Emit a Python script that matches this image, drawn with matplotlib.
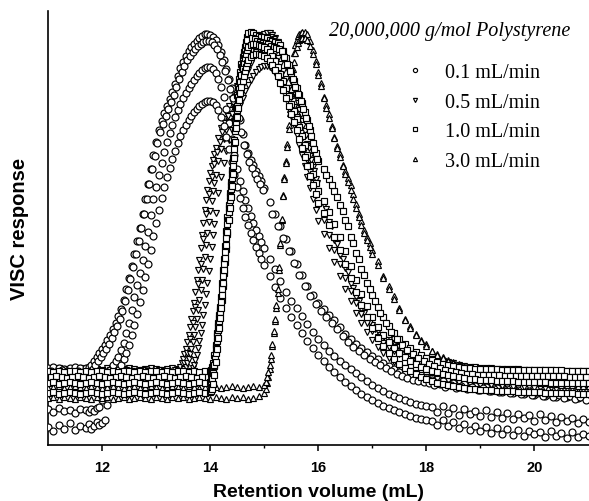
import numpy as np
import matplotlib
matplotlib.use("Agg")
import matplotlib.pyplot as plt

# retention volume at which each run was sampled (mL)
vol_01 = np.round(np.concatenate([np.arange(11.0, 11.65, 0.1),
                                  np.arange(11.70, 15.025, 0.05),
                                  np.arange(15.1, 21.05, 0.1)]), 3)
vol_01s = np.round(np.concatenate([np.arange(11.05, 11.6, 0.1),
                                   np.arange(11.725, 15.0, 0.05),
                                   np.arange(15.15, 21.0, 0.1)]), 3)
vol_05 = np.round(np.concatenate([np.arange(11.0, 13.45, 0.1),
                                  np.arange(13.45, 14.11, 0.025),
                                  np.arange(14.15, 16.025, 0.05),
                                  np.arange(16.1, 21.05, 0.1)]), 3)
vol_05s = np.round(np.concatenate([np.arange(11.05, 13.4, 0.1),
                                   np.arange(13.475, 16.0, 0.05),
                                   np.arange(16.15, 21.0, 0.1)]), 3)
vol_10 = np.round(np.concatenate([np.arange(11.0, 13.95, 0.1),
                                  np.arange(14.0, 14.71, 0.02),
                                  np.arange(14.75, 16.025, 0.05),
                                  np.arange(16.1, 21.05, 0.1)]), 3)
vol_10s = np.round(np.concatenate([np.arange(11.05, 13.9, 0.1),
                                   np.arange(14.01, 14.7, 0.02),
                                   np.arange(14.775, 16.0, 0.05),
                                   np.arange(16.15, 21.0, 0.1)]), 3)
vol_30 = np.round(np.concatenate([np.arange(11.0, 14.95, 0.1),
                                  np.arange(15.0, 15.71, 0.025),
                                  np.arange(15.75, 17.025, 0.05),
                                  np.arange(17.1, 21.05, 0.1)]), 3)

# viscometer response (arb. units), injections at 0.1 mL/min
visc_01_a = [77, 78, 77, 76, 77, 78, 77,
             77, 78, 80, 84, 88, 92, 96, 100, 105, 110, 116, 122, 129, 136, 145, 156, 167, 179, 191, 204,
             217, 231, 246, 261, 276, 290, 303, 315, 324, 332, 339, 346, 353, 361, 369, 377, 383, 389, 394, 398,
             401, 404, 407, 409, 411, 411, 410, 408, 405, 400, 393, 385, 376, 366, 357, 348, 339, 325, 311, 300,
             292, 285, 280, 274, 269, 264, 257,
             243, 231, 219, 206, 194, 181, 170, 159, 150, 142, 136, 130, 125, 118, 111, 106, 101, 97, 93, 89,
             86, 82, 79, 76, 73, 71, 69, 68, 67, 66,
             65, 62, 64, 60, 62, 58, 61, 57, 59, 55, 58, 54, 57, 53, 56, 52, 55, 51, 54, 50,
             53, 49, 52, 48, 51, 48, 50, 47, 49, 46]
visc_01_d = [74, 73, 75, 74, 73, 74,
             72, 73, 76, 80, 84, 88, 92, 96, 101, 107, 113, 119, 126, 134, 144, 155, 166, 178, 191, 204,
             217, 231, 246, 261, 276, 289, 302, 313, 321, 329, 336, 343, 350, 358, 366, 373, 379, 385, 389, 393,
             396, 399, 401, 403, 404, 404, 403, 400, 396, 390, 383, 374, 365, 356, 347, 338, 327, 313, 300, 291,
             283, 277, 271, 266, 261, 255,
             231, 219, 207, 194, 182, 170, 159, 149, 141, 134, 128, 122, 116, 109, 103, 98, 94, 90, 86, 83,
             80, 77, 74, 71, 69, 67, 65, 64, 63, 62,
             60, 61, 58, 60, 57, 59, 56, 58, 55, 57, 54, 56, 53, 55, 52, 54, 51, 53, 50, 52,
             49, 51, 48, 50, 47, 49, 46, 48, 45]
visc_01_b = [36, 33, 37, 34, 35, 32, 36,
             35, 33, 36, 34, 37, 38, 45, 58, 68, 75, 80, 84, 88, 95, 102, 112, 122, 135, 148, 160,
             172, 185, 199, 213, 230, 246, 258, 270, 282, 293, 303, 312, 320, 328, 335, 341, 347, 352, 357, 361,
             365, 369, 372, 375, 377, 378, 378, 376, 372, 366, 358, 348, 336, 322, 306, 290, 276, 264, 254, 245,
             237, 229, 222, 215, 209, 203, 197,
             186, 176, 164, 153, 144, 137, 129, 121, 113, 106, 100, 94, 89, 84, 80, 76, 72, 68, 64, 60,
             57, 54, 51, 49, 47, 45, 43, 41, 40, 39,
             38, 33, 39, 32, 37, 30, 36, 31, 34, 29, 35, 28, 33, 27, 32, 26, 31, 27, 30, 24,
             31, 25, 29, 23, 28, 24, 27, 22, 26, 23]
visc_01_c = [18, 14, 20, 16, 22, 15, 19,
             17, 21, 16, 19, 23, 20, 22, 25, 40, 55, 64, 70, 75, 80, 86, 92, 100, 110, 120, 131,
             143, 155, 168, 181, 195, 209, 222, 235, 247, 258, 268, 277, 286, 294, 302, 309, 315, 320, 325, 329,
             333, 336, 339, 341, 343, 344, 344, 343, 340, 335, 328, 319, 308, 296, 283, 270, 258, 247, 237, 228,
             220, 212, 205, 198, 192, 186, 180,
             169, 158, 147, 137, 128, 120, 112, 104, 97, 90, 84, 78, 73, 68, 63, 59, 55, 51, 48, 45,
             42, 39, 37, 35, 33, 31, 29, 27, 26, 25,
             24, 20, 25, 19, 23, 17, 21, 15, 19, 14, 18, 12, 17, 11, 16, 10, 15, 9, 14, 11,
             13, 8, 14, 9, 12, 7, 13, 8, 11, 9]

# 0.5 mL/min
visc_05_a = [76, 75, 77, 76, 75, 76, 77, 75, 76, 76, 75, 77, 76, 75, 76, 77, 76, 75, 76, 77, 76, 75, 76, 77, 76,
             78, 82, 86, 91, 96, 103, 110, 118, 126, 134, 142, 153, 165, 175, 185, 197, 210, 222, 235, 245,
             255, 264, 272, 279, 285, 291, 297,
             307, 317, 326, 333, 339, 346, 352, 359, 367, 375, 384, 392, 399, 404, 407, 409, 410, 411, 412, 412,
             410, 407, 403, 397, 390, 382, 373, 364, 355, 346, 335, 324, 314, 301, 289, 278, 266, 254,
             240, 223, 205, 190, 177, 161, 148, 136, 127, 120, 114, 109, 105, 102, 99, 96, 93, 91, 89, 87,
             86, 85, 84, 83, 82, 80, 79, 78, 78, 77, 77, 77, 76, 76, 76, 76, 76, 75, 75, 75,
             75, 75, 75, 74, 74, 74, 74, 74, 74, 74]
visc_05_d = [74, 73, 75, 74, 73, 75, 74, 73, 75, 74, 73, 75, 74, 73, 75, 74, 73, 75, 74, 73, 75, 74, 73, 75,
             74, 82, 92, 106, 122, 138, 161, 181, 206, 231, 251, 268, 281, 293, 303, 313, 322, 329, 335, 342,
             348, 355, 363, 371, 380, 388, 395, 400, 403, 405, 406, 407, 408, 408, 406, 403, 399, 393, 386, 378,
             369, 360, 351, 342, 331, 320, 310, 297, 285, 274, 262,
             236, 219, 201, 186, 173, 157, 144, 132, 123, 116, 110, 105, 101, 98, 95, 92, 89, 87, 85, 83,
             82, 81, 80, 79, 78, 76, 75, 74, 74, 73, 73, 73, 72, 72, 72, 72, 72, 71, 71, 71,
             71, 71, 71, 70, 70, 70, 70, 70, 70]
visc_05_b = [72, 71, 72, 73, 71, 72, 72, 71, 73, 72, 71, 72, 72, 73, 71, 72, 71, 72, 73, 72, 71, 72, 72, 71, 72,
             72, 73, 74, 76, 78, 82, 86, 91, 96, 103, 110, 118, 126, 135, 145, 155, 165, 176, 188, 200,
             212, 223, 234, 244, 254, 262, 270,
             284, 296, 306, 315, 323, 331, 338, 345, 352, 360, 368, 375, 382, 388, 393, 396, 398, 399, 399, 398,
             396, 392, 387, 381, 374, 366, 357, 348, 338, 328, 318, 307, 296, 285, 273, 262, 250, 239,
             225, 210, 195, 181, 167, 154, 142, 131, 122, 114, 108, 102, 98, 94, 91, 88, 86, 84, 82, 80,
             79, 78, 77, 76, 75, 74, 73, 72, 72, 71, 71, 70, 70, 70, 69, 69, 69, 69, 68, 68,
             68, 68, 67, 67, 67, 67, 67, 66, 66, 66]
visc_05_c = [65, 66, 64, 66, 65, 64, 66, 65, 65, 64, 66, 65, 64, 65, 66, 65, 64, 66, 65, 65, 64, 66, 65, 64, 65,
             66, 66, 67, 67, 68, 69, 70, 72, 74, 77, 80, 85, 90, 97, 104, 112, 120, 130, 140, 151,
             162, 174, 186, 198, 210, 221, 232,
             252, 268, 282, 294, 305, 315, 324, 332, 340, 347, 354, 360, 365, 369, 373, 376, 378, 379, 379, 378,
             376, 372, 367, 361, 354, 346, 338, 329, 320, 310, 300, 290, 279, 268, 257, 246, 235, 224,
             211, 197, 183, 169, 156, 144, 132, 122, 113, 105, 98, 92, 87, 83, 80, 77, 74, 72, 70, 68,
             67, 66, 65, 64, 63, 62, 62, 61, 61, 60, 60, 60, 59, 59, 59, 58, 58, 58, 58, 57,
             57, 57, 57, 56, 56, 56, 56, 56, 55, 55]

# 1.0 mL/min
visc_10_a = [74, 73, 74, 73, 74, 74, 73, 74, 73, 74, 74, 73, 74, 73, 74, 74, 73, 74, 73, 74,
             74, 73, 74, 73, 74, 74, 73, 74, 73, 74,
             74, 75, 78, 82, 90, 100, 112, 122, 130, 138, 148, 162, 175, 186, 199, 214, 228, 240, 252, 263,
             275, 287, 305, 324, 338, 350, 358, 366, 373, 381, 388, 393, 398, 403, 408, 412,
             413, 412, 410, 409, 408, 408, 407, 405, 404, 403, 402, 400, 394, 387, 380, 372, 364, 357, 350, 342,
             333, 325, 315, 302, 292, 284,
             276, 266, 254, 240, 225, 208, 192, 176, 162, 150, 138, 128, 119, 112, 106, 101, 97, 93, 90, 87,
             85, 83, 81, 80, 79, 78, 77, 77, 76, 76, 76, 76, 76, 75, 75, 75, 75, 75, 75, 75,
             75, 75, 75, 75, 75, 74, 74, 74, 74, 74]
visc_10_d = [68, 69, 68, 67, 68, 69, 68, 67, 68, 69, 68, 67, 68, 69, 68, 67, 68, 69, 68, 67,
             68, 69, 68, 67, 68, 69, 68, 67, 68,
             71, 72, 75, 79, 87, 97, 109, 119, 127, 135, 145, 159, 172, 183, 196, 211, 225, 237, 249, 260,
             272, 284, 302, 321, 335, 347, 355, 363, 370, 378, 385, 390, 395, 400, 405,
             407, 406, 404, 403, 402, 402, 401, 399, 398, 397, 396, 394, 388, 381, 374, 366, 358, 351, 344, 336,
             327, 319, 309, 296, 286,
             270, 260, 248, 234, 219, 202, 186, 170, 156, 144, 132, 122, 113, 106, 100, 95, 91, 87, 84, 81,
             79, 77, 75, 74, 73, 72, 71, 71, 70, 70, 70, 70, 70, 69, 69, 69, 69, 69, 69, 69,
             69, 69, 69, 69, 69, 68, 68, 68, 68]
visc_10_b = [62, 63, 61, 62, 63, 62, 61, 62, 63, 62, 61, 62, 63, 62, 61, 62, 63, 62, 61, 62,
             63, 62, 61, 62, 63, 62, 61, 62, 63, 62,
             63, 64, 66, 72, 80, 92, 104, 115, 124, 133, 143, 156, 169, 181, 193, 207, 221, 233, 245, 256,
             267, 279, 296, 314, 328, 339, 348, 356, 363, 370, 377, 382, 387, 391, 395, 398,
             400, 401, 401, 400, 399, 398, 396, 393, 389, 384, 378, 371, 364, 357, 349, 341, 334, 326, 318, 309,
             300, 290, 280, 271, 262, 254,
             244, 233, 221, 208, 194, 179, 165, 151, 139, 128, 118, 110, 103, 97, 92, 88, 84, 81, 78, 76,
             74, 73, 71, 70, 69, 68, 67, 66, 66, 65, 65, 65, 64, 64, 64, 64, 63, 63, 63, 63,
             63, 63, 62, 62, 62, 62, 62, 62, 62, 62]
visc_10_c = [52, 53, 51, 52, 53, 52, 51, 52, 53, 52, 51, 52, 53, 52, 51, 52, 53, 52, 51, 52,
             53, 52, 51, 52, 53, 52, 51, 52, 53, 52,
             53, 54, 56, 61, 70, 83, 96, 107, 117, 127, 137, 150, 162, 175, 187, 200, 213, 225, 237, 248,
             259, 271, 287, 303, 317, 328, 337, 345, 352, 358, 364, 369, 374, 378, 382, 385,
             388, 390, 391, 391, 390, 389, 387, 384, 380, 375, 369, 362, 355, 347, 339, 331, 323, 315, 306, 297,
             288, 279, 269, 260, 251, 242,
             232, 220, 208, 195, 181, 167, 153, 140, 128, 117, 107, 99, 92, 86, 81, 77, 74, 71, 68, 66,
             64, 62, 61, 60, 59, 58, 57, 56, 56, 55, 55, 55, 54, 54, 54, 54, 53, 53, 53, 53,
             53, 52, 52, 52, 52, 52, 52, 51, 51, 51]

# 3.0 mL/min
visc_30_a = [47, 48, 46, 48, 47, 46, 48, 47, 46, 48, 47, 48, 46, 47, 48, 46, 47, 48, 47, 46,
             48, 47, 46, 48, 47, 48, 46, 47, 48, 47, 46, 48, 47, 46, 48, 47, 48, 46, 47, 49,
             52, 56, 62, 68, 76, 86, 99, 112, 124, 137, 152, 175, 200, 225, 250, 268, 284, 301, 320, 336,
             356, 376, 392, 400, 405, 409, 411, 412, 413,
             413, 411, 404, 395, 384, 373, 362, 348, 340, 331, 319, 308, 299, 291, 280, 274, 267, 260, 251, 241,
             231, 224, 215, 208, 202, 195,
             184, 169, 159, 149, 137, 126, 119, 111, 105, 101, 94, 91, 88, 85, 83, 81, 79, 77, 76, 75,
             74, 73, 72, 72, 71, 71, 70, 70, 69, 69, 69, 68, 68, 68, 67, 67, 67, 66, 66, 66]
visc_30_b = [57, 58, 59, 57, 58, 59, 58, 57, 59, 58, 57, 58, 59, 58, 57, 58, 59, 57, 58, 59,
             58, 57, 58, 59, 58, 57, 59, 58, 57, 58, 59, 58, 57, 58, 59, 58, 57, 58, 59, 58,
             60, 63, 68, 73, 80, 90, 101, 114, 126, 140, 156, 178, 202, 226, 249, 266, 282, 298, 316, 332,
             350, 368, 383, 392, 398, 402, 405, 406, 407,
             407, 405, 399, 391, 381, 370, 359, 347, 337, 327, 317, 307, 297, 288, 279, 271, 263, 255, 246, 237,
             228, 220, 212, 205, 198, 191,
             180, 167, 156, 146, 135, 125, 117, 110, 104, 99, 94, 90, 87, 84, 82, 80, 78, 76, 75, 74,
             70, 69, 68, 67, 66, 65, 64, 64, 63, 63, 62, 62, 61, 61, 60, 60, 60, 59, 59, 59]

flow_labels = ["0.1 mL/min", "0.5 mL/min", "1.0 mL/min", "3.0 mL/min"]
runs = [[(vol_01, visc_01_a), (vol_01s, visc_01_d), (vol_01, visc_01_b), (vol_01, visc_01_c)],
        [(vol_05, visc_05_a), (vol_05s, visc_05_d), (vol_05, visc_05_b), (vol_05, visc_05_c)],
        [(vol_10, visc_10_a), (vol_10s, visc_10_d), (vol_10, visc_10_b), (vol_10, visc_10_c)],
        [(vol_30, visc_30_a), (vol_30, visc_30_b)]]
markers = ["o", "v", "s", "^"]
sizes = [5.0, 5.0, 4.3, 5.0]
zorders = [3, 2, 5, 4]

SANS = "Liberation Sans"
SERIF = "Liberation Serif"

fig = plt.figure(figsize=(5.89, 5.02), dpi=100)
ax = fig.add_axes([48 / 589, 56 / 502, 540.5 / 589, 434 / 502])

handles = []
for lab, traces, m, ms, z in zip(flow_labels, runs, markers, sizes, zorders):
    for i, (vol, y) in enumerate(traces):
        if len(y) != len(vol):
            raise ValueError(f"{lab} trace {i}: {len(y)} vs {len(vol)}")
        ln, = ax.plot(vol, y, ls="none", marker=m, ms=ms, mfc="white",
                      mec="black", mew=0.85, zorder=z)
        if i == 0:
            handles.append(ln)

ax.set_xlim(11, 21)
ax.set_ylim(0, 434)
ax.set_xticks([12, 14, 16, 18, 20])
ax.set_xticks([13, 15, 17, 19], minor=True)
ax.set_yticks([])
for s in ["top", "right"]:
    ax.spines[s].set_visible(False)
for s in ["left", "bottom"]:
    ax.spines[s].set_linewidth(1.2)
ax.tick_params(axis="x", which="major", length=4, width=1.1, pad=7)
ax.tick_params(axis="x", which="minor", length=2.5, width=1.0)
for t in ax.get_xticklabels():
    t.set_fontfamily(SANS)
    t.set_fontweight("bold")
    t.set_fontsize(10.5)

ax.set_xlabel("Retention volume (mL)", fontfamily=SANS, fontweight="bold",
              fontsize=14, labelpad=6)
ax.set_ylabel("VISC response", fontfamily=SANS, fontweight="bold",
              fontsize=14.5, labelpad=14)

fig.text(570 / 589, 1 - 32 / 502, "20,000,000 g/mol Polystyrene",
         fontfamily=SERIF, fontstyle="italic", fontsize=14.5,
         ha="right", va="center")

ax.legend(handles, flow_labels, loc="upper left",
          bbox_to_anchor=(405 / 589, 1 - 64 / 502), bbox_transform=fig.transFigure,
          frameon=False, markerscale=0.6, handlelength=1.0, handletextpad=1.0,
          labelspacing=0.52, borderpad=0, borderaxespad=0,
          prop={"family": SERIF, "size": 14.5})

fig.savefig("out.png", dpi=100)
